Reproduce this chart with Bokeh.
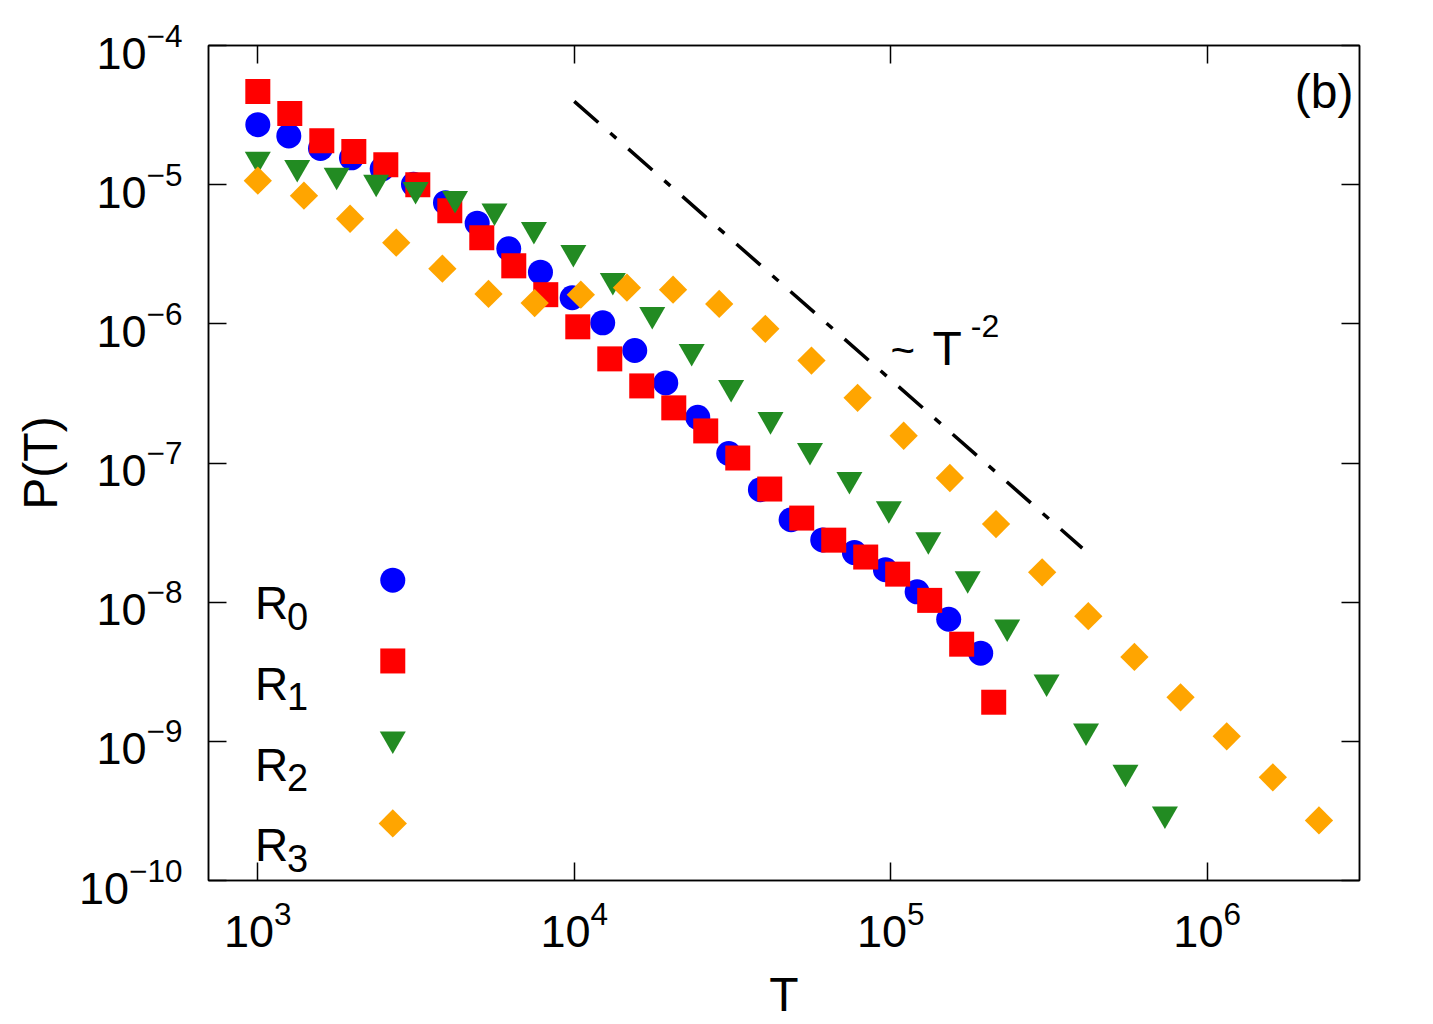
import math
from bokeh.plotting import figure
from bokeh.models import LogAxis, FixedTicker, Label, Range1d, CustomJSTickFormatter
from bokeh.embed import file_html
from bokeh.resources import INLINE

# ---------------- data ----------------
T_R0 = [1000, 1253, 1578, 1977, 2472, 3104, 3918, 4934, 6209, 7820, 9849, 12300,
        15530, 19460, 24560, 30770, 38750, 48440, 60980, 76790, 96230, 121200, 152500, 192500]
P_R0 = [2.70e-5, 2.24e-5, 1.82e-5, 1.56e-5, 1.30e-5, 1.005e-5, 7.42e-6, 5.29e-6, 3.46e-6,
        2.35e-6, 1.54e-6, 1.017e-6, 6.43e-7, 3.76e-7, 2.13e-7, 1.17e-7, 6.43e-8, 3.91e-8,
        2.80e-8, 2.27e-8, 1.71e-8, 1.186e-8, 7.54e-9, 4.30e-9]

T_R1 = [1000, 1262, 1593, 2011, 2538, 3203, 4043, 5102, 6440, 8128, 10260, 12950,
        16340, 20630, 26030, 32860, 41470, 52340, 66060, 83370, 105200, 132800, 167600, 211600]
P_R1 = [4.67e-5, 3.24e-5, 2.07e-5, 1.73e-5, 1.39e-5, 1.00e-5, 6.50e-6, 4.16e-6, 2.61e-6,
        1.62e-6, 9.52e-7, 5.60e-7, 3.58e-7, 2.49e-7, 1.70e-7, 1.086e-7, 6.50e-8, 4.02e-8,
        2.79e-8, 2.11e-8, 1.59e-8, 1.03e-8, 4.99e-9, 1.91e-9]

T_R2 = [1000, 1332, 1775, 2366, 3152, 4200, 5596, 7456, 9934, 13240, 17640, 23500,
        31310, 41710, 55580, 74050, 98660, 131500, 175100, 233400, 310900, 414200, 551900, 735400]
P_R2 = [1.52e-5, 1.33e-5, 1.168e-5, 1.04e-5, 9.24e-6, 7.96e-6, 6.46e-6, 4.76e-6, 3.26e-6,
        2.05e-6, 1.167e-6, 6.33e-7, 3.49e-7, 2.05e-7, 1.228e-7, 7.60e-8, 4.69e-8, 2.81e-8,
        1.471e-8, 6.64e-9, 2.67e-9, 1.186e-9, 5.99e-10, 3.00e-10]

T_R3 = [1000, 1399, 1957, 2738, 3830, 5358, 7496, 10490, 14670, 20520, 28710, 40160,
        56180, 78590, 109900, 153800, 215200, 301000, 421100, 589000, 824000, 1153000,
        1613000, 2256000]
P_R3 = [1.069e-5, 8.33e-6, 5.69e-6, 3.83e-6, 2.49e-6, 1.64e-6, 1.41e-6, 1.62e-6, 1.82e-6,
        1.76e-6, 1.39e-6, 9.20e-7, 5.45e-7, 2.94e-7, 1.57e-7, 7.80e-8, 3.64e-8, 1.64e-8,
        7.93e-9, 4.04e-9, 2.07e-9, 1.086e-9, 5.51e-10, 2.70e-10]

SERIES_NAMES = ["0", "1", "2", "3"]          # subscripts of R
X_TICKS = [1e3, 1e4, 1e5, 1e6]
Y_TICKS = [1e-10, 1e-9, 1e-8, 1e-7, 1e-6, 1e-5, 1e-4]
X_LABEL = "T"
Y_LABEL = "P(T)"
PANEL = "(b)"

# guide power law  ~ T^-2
GUIDE_AMP = 3970.0
GUIDE_T = [1.0e4, 4.03e5]
GUIDE_P = [GUIDE_AMP / t ** 2 for t in GUIDE_T]

# ---------------- figure ----------------
FONT = "Liberation Sans"

p = figure(width=1433, height=1024, x_axis_type="log", y_axis_type="log",
           x_range=Range1d(698.5, 3.03e6), y_range=Range1d(1e-10, 1e-4),
           output_backend="svg", toolbar_location=None,
           min_border_left=208, min_border_right=74, min_border_top=45, min_border_bottom=144)
p.xgrid.grid_line_color = None
p.ygrid.grid_line_color = None
p.outline_line_color = "black"
p.outline_line_width = 1.5
p.background_fill_color = "white"
p.border_fill_color = "white"


def style_axis(ax, ticks, show):
    ax.ticker = FixedTicker(ticks=ticks, minor_ticks=[])
    ax.major_tick_in = 18
    ax.major_tick_out = 0
    ax.minor_tick_line_color = None
    ax.major_tick_line_width = 1.5
    ax.major_tick_line_color = "black"
    ax.axis_line_width = 1.5
    ax.axis_line_color = "black"
    ax.major_label_text_font = FONT
    ax.major_label_text_color = "black"
    if show:
        ax.major_label_text_font_size = "45px"
    else:
        ax.formatter = CustomJSTickFormatter(code="return ''")
        ax.major_label_text_font_size = "1px"
        ax.major_label_text_color = None
        ax.major_label_standoff = 0


xa = p.xaxis[0]
ya = p.yaxis[0]
style_axis(xa, X_TICKS, True)
style_axis(ya, Y_TICKS, True)
xa.major_label_standoff = 20
ya.major_label_standoff = 26
xa.axis_label = X_LABEL
ya.axis_label = Y_LABEL
for ax in (xa, ya):
    ax.axis_label_text_font = FONT
    ax.axis_label_text_font_size = "48px"
    ax.axis_label_text_font_style = "normal"
    ax.axis_label_text_color = "black"
xa.axis_label_standoff = 18
ya.axis_label_standoff = 9

top_ax = LogAxis()
right_ax = LogAxis()
style_axis(top_ax, X_TICKS, False)
style_axis(right_ax, Y_TICKS, False)
p.add_layout(top_ax, "above")
p.add_layout(right_ax, "right")

# ---------------- data marks ----------------
p.scatter(T_R0, P_R0, marker="circle", size=25, fill_color="#0000ff", line_color=None)
p.scatter(T_R1, P_R1, marker="square", size=25, fill_color="#ff0000", line_color=None)
p.scatter(T_R2, P_R2, marker="inverted_triangle", size=26, fill_color="#228b22", line_color=None)
p.scatter(T_R3, P_R3, marker="square", size=20, angle=math.pi / 4,
          fill_color="#ffa500", line_color=None)

p.line(GUIDE_T, GUIDE_P, line_color="black", line_width=3.5, line_dash="32 16 8 16")

# ---------------- legend (drawn by hand: labels left, symbols right) ----------------
LEG_T = 2670
LEG_P = [1.44e-8, 3.78e-9, 1.039e-9, 2.57e-10]
p.scatter([LEG_T], [LEG_P[0]], marker="circle", size=25, fill_color="#0000ff", line_color=None)
p.scatter([LEG_T], [LEG_P[1]], marker="square", size=25, fill_color="#ff0000", line_color=None)
p.scatter([LEG_T], [LEG_P[2]], marker="inverted_triangle", size=26, fill_color="#228b22", line_color=None)
p.scatter([LEG_T], [LEG_P[3]], marker="square", size=20, angle=math.pi / 4,
          fill_color="#ffa500", line_color=None)

ROW_BASE = [277.3, 196.6, 115.9, 35.2]
for name, yb in zip(SERIES_NAMES, ROW_BASE):
    p.add_layout(Label(x=46.6, y=yb, x_units="screen", y_units="screen", text="R",
                       text_font=FONT, text_font_size="46px", text_color="black",
                       text_align="left", text_baseline="alphabetic"))
    p.add_layout(Label(x=78.4, y=yb - 12.8, x_units="screen", y_units="screen", text=name,
                       text_font=FONT, text_font_size="38px", text_color="black",
                       text_align="left", text_baseline="alphabetic"))

# ---------------- annotations ----------------
p.add_layout(Label(x=1145, y=789, x_units="screen", y_units="screen", text=PANEL,
                   text_font=FONT, text_font_size="48px", text_color="black",
                   text_align="right", text_baseline="alphabetic"))
p.add_layout(Label(x=682, y=530, x_units="screen", y_units="screen", text="~",
                   text_font=FONT, text_font_size="42px", text_color="black",
                   text_align="left", text_baseline="alphabetic"))
p.add_layout(Label(x=724, y=531.7, x_units="screen", y_units="screen", text="T",
                   text_font=FONT, text_font_size="48px", text_color="black",
                   text_align="left", text_baseline="alphabetic"))
p.add_layout(Label(x=762.3, y=555, x_units="screen", y_units="screen", text="-2",
                   text_font=FONT, text_font_size="32px", text_color="black",
                   text_align="left", text_baseline="alphabetic"))

open("out.html", "w").write(file_html(p, INLINE))
